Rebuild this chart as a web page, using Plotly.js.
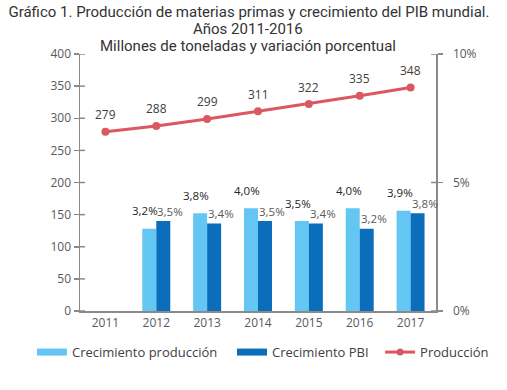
<!DOCTYPE html>
<html>
<head>
<meta charset="utf-8">
<script src="https://cdn.plot.ly/plotly-3.0.1.min.js"></script>
<style>html,body{margin:0;padding:0;background:#fff;}#chart{width:507px;height:390px;}</style>
</head>
<body>
<div id="chart"></div>
<script>
const years = ['2011','2012','2013','2014','2015','2016','2017'];
const crecimientoProduccion = [null, 3.2, 3.8, 4.0, 3.5, 4.0, 3.9];
const crecimientoPBI = [null, 3.5, 3.4, 3.5, 3.4, 3.2, 3.8];
const produccion = [279, 288, 299, 311, 322, 335, 348];
const leftTicks = [0, 50, 100, 150, 200, 250, 300, 350, 400];
const rightTicks = [0, 5, 10];
const rightTickText = ['0%', '5%', '10%'];
const legendNames = ['Crecimiento producción', 'Crecimiento PBI', 'Producción'];

const cLight = '#63C6F3';
const cDark = '#0A6EBB';
const cRed = '#DC5860';
const axisCol = '#8a8a8a';
const txtCol = '#595959';
const font = 'Open Sans, Noto Sans, sans-serif';

const fmtPct = v => v.toFixed(1).replace('.', ',') + '%';

const traces = [
  {type:'bar', name:legendNames[0], x:years, y:crecimientoProduccion, yaxis:'y2',
   marker:{color:cLight}, showlegend:false, hoverinfo:'skip'},
  {type:'bar', name:legendNames[1], x:years, y:crecimientoPBI, yaxis:'y2',
   marker:{color:cDark}, showlegend:false, hoverinfo:'skip'},
  {type:'scatter', mode:'lines+markers', name:legendNames[2], x:years, y:produccion, yaxis:'y',
   line:{color:cRed, width:3}, marker:{color:cRed, size:8}, showlegend:false},
  {type:'scatter', mode:'lines', name:legendNames[0], x:[null], y:[null], legend:'legend',
   line:{color:cLight, width:7}},
  {type:'scatter', mode:'lines', name:legendNames[1], x:[null], y:[null], legend:'legend2',
   line:{color:cDark, width:7}},
  {type:'scatter', mode:'lines+markers', name:legendNames[2], x:[null], y:[null], legend:'legend3',
   line:{color:cRed, width:3}, marker:{color:cRed, size:7}}
];

const annotations = [
  {text:'Años 2011-2016', xref:'paper', yref:'paper', x:0.472, y:1.097, xanchor:'center', yanchor:'middle',
   showarrow:false, font:{family:'Roboto, sans-serif', size:15, color:'#333'}},
  {text:'Millones de toneladas y variación porcentual', xref:'paper', yref:'paper', x:0.472, y:1.031,
   xanchor:'center', yanchor:'middle', showarrow:false, font:{family:'Roboto, sans-serif', size:15, color:'#333'}}
];
for (let i = 0; i < years.length; i++) {
  if (crecimientoProduccion[i] !== null) annotations.push({
    text: fmtPct(crecimientoProduccion[i]), xref:'x', yref:'y2', x:i, y:crecimientoProduccion[i],
    xanchor:'center', yanchor:'middle', xshift:-11, yshift:18, showarrow:false, borderpad:0,
    font:{family:font, size:11.5, color:'#262626'}});
  if (crecimientoPBI[i] !== null) annotations.push({
    text: fmtPct(crecimientoPBI[i]), xref:'x', yref:'y2', x:i, y:crecimientoPBI[i],
    xanchor:'center', yanchor:'middle', xshift:14, yshift:10, showarrow:false, borderpad:0,
    font:{family:font, size:11.5, color:txtCol}});
  annotations.push({
    text: String(produccion[i]), xref:'x', yref:'y', x:i, y:produccion[i],
    xanchor:'center', yanchor:'middle', yshift:17, showarrow:false,
    font:{family:font, size:12, color:'#404040'}});
}

const shapes = [];
leftTicks.forEach(v => shapes.push({type:'line', xref:'paper', yref:'y', xsizemode:'pixel', xanchor:0,
  x0:0, x1:5, y0:v, y1:v, line:{color:axisCol, width:1.5}}));
rightTicks.forEach(v => shapes.push({type:'line', xref:'paper', yref:'y2', xsizemode:'pixel', xanchor:1,
  x0:-5, x1:0, y0:v, y1:v, line:{color:axisCol, width:1.5}}));

const legendBase = {orientation:'h', xanchor:'left', y:-0.16, yanchor:'middle',
  font:{family:font, size:13, color:'#404040'}, itemwidth:30, bgcolor:'rgba(0,0,0,0)'};

const layout = {
  width:507, height:390,
  margin:{l:80, r:71, t:54, b:79},
  paper_bgcolor:'#fff', plot_bgcolor:'#fff',
  font:{family:font, size:12, color:txtCol},
  title:{text:'Gráfico 1. Producción de materias primas y crecimiento del PIB mundial.',
    x:0.491, xref:'container', xanchor:'center', y:0.969, yref:'container', yanchor:'middle',
    font:{family:'Roboto, sans-serif', size:15, color:'#333'}},
  barmode:'group', bargap:0.45, bargroupgap:0,
  xaxis:{type:'category', range:[-0.5, 6.5], showline:true, linecolor:axisCol, linewidth:1.5,
    ticks:'', showgrid:false, zeroline:false, tickfont:{family:font, size:12, color:txtCol}},
  yaxis:{range:[0,400], tickvals:leftTicks, showline:true, linecolor:axisCol, linewidth:1.5,
    ticks:'outside', ticklen:5, tickcolor:axisCol, tickwidth:1.5, showgrid:false, zeroline:false,
    tickfont:{family:font, size:12, color:txtCol}},
  yaxis2:{overlaying:'y', side:'right', range:[0,10], tickvals:rightTicks, ticktext:rightTickText,
    showline:true, linecolor:axisCol, linewidth:1.5, ticks:'outside', ticklen:5, tickcolor:axisCol,
    tickwidth:1.5, ticklabelstandoff:8, showgrid:false, zeroline:false,
    tickfont:{family:font, size:12, color:txtCol}},
  legend:Object.assign({}, legendBase, {x:-0.135}),
  legend2:Object.assign({}, legendBase, {x:0.427}),
  legend3:Object.assign({}, legendBase, {x:0.843}),
  annotations:annotations,
  shapes:shapes,
  showlegend:true
};

Plotly.newPlot('chart', traces, layout, {displayModeBar:false, staticPlot:true});
</script>
</body>
</html>
